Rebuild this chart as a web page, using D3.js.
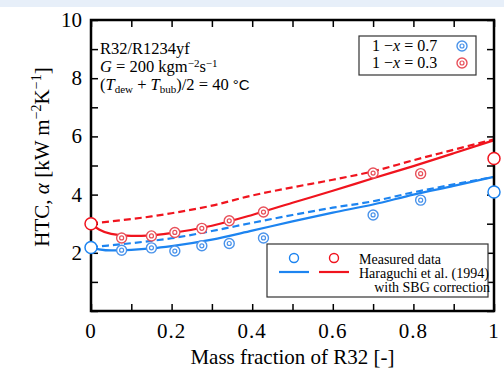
<!DOCTYPE html>
<html>
<head>
<meta charset="utf-8">
<script src="https://cdn.jsdelivr.net/npm/d3@7"></script>
<style>
  body { margin: 0; background: #fff; }
  svg { font-family: "Liberation Serif", "Times New Roman", serif; }
</style>
</head>
<body>
<svg id="chart" width="504" height="373"></svg>
<script>
// measured points (1-x = 0.7 blue, 1-x = 0.3 red)
var measX = [0.076, 0.15, 0.208, 0.275, 0.343, 0.428, 0.70, 0.818];
var measBlue = [2.09, 2.17, 2.06, 2.24, 2.32, 2.51, 3.30, 3.81];
var measRed = [2.51, 2.58, 2.70, 2.84, 3.10, 3.40, 4.74, 4.72];

// pure fluid points (x = 0 and x = 1)
var pureX = [0, 1];
var pureBlue = [2.18, 4.09];
var pureRed = [3.00, 5.24];

// model curves
var lineX = [0, 0.02, 0.05, 0.1, 0.15, 0.2, 0.3, 0.4, 0.5, 0.6, 0.7, 0.8, 0.9, 1];
var redSolid = [3.0, 2.8, 2.65, 2.58, 2.6, 2.68, 2.93, 3.3, 3.72, 4.13, 4.56, 4.98, 5.42, 5.87];
var redDashed = [3.02, 3.04, 3.08, 3.16, 3.25, 3.36, 3.62, 3.97, 4.25, 4.51, 4.8, 5.18, 5.54, 5.9];
var blueSolid = [2.18, 2.12, 2.08, 2.1, 2.15, 2.23, 2.45, 2.76, 3.08, 3.38, 3.66, 4.0, 4.3, 4.61];
var blueDashed = [2.2, 2.22, 2.26, 2.33, 2.41, 2.5, 2.75, 3.03, 3.3, 3.55, 3.77, 4.08, 4.35, 4.61];

var xTicks = [0, 0.2, 0.4, 0.6, 0.8, 1];
var yTicks = [2, 4, 6, 8, 10];

var BLUE = "#1d84f0", RED = "#f0141e";
var BLUE_PT = "#4a93ea", RED_PT = "#e8505a";

var svg = d3.select("#chart");
var margin = { top: 20, right: 10, bottom: 62, left: 91 };
var width = +svg.attr("width"), height = +svg.attr("height");

svg.append("rect").attr("x", 0).attr("y", 0).attr("width", width).attr("height", 7)
    .attr("fill", "#e7eff9");

var x = d3.scaleLinear().domain([0, 1]).range([margin.left, width - margin.right]);
var y = d3.scaleLinear().domain([0, 10]).range([height - margin.bottom, margin.top]);

var line = d3.line().curve(d3.curveMonotoneX)
    .x(function(d) { return x(d[0]); })
    .y(function(d) { return y(d[1]); });

function pairs(xs, ys) { return xs.map(function(v, i) { return [v, ys[i]]; }); }

// curves
[[redDashed, RED, "7,4"], [redSolid, RED, null], [blueDashed, BLUE, "7,4"], [blueSolid, BLUE, null]]
  .forEach(function(c) {
    svg.append("path")
        .datum(pairs(lineX, c[0]))
        .attr("d", line)
        .attr("fill", "none")
        .attr("stroke", c[1])
        .attr("stroke-width", 2.2)
        .attr("stroke-dasharray", c[2]);
  });

// measured double-circle markers
function drawMeas(ys, col) {
  var g = svg.append("g");
  var pts = pairs(measX, ys);
  g.selectAll(".o").data(pts).enter().append("circle")
      .attr("cx", function(d) { return x(d[0]); })
      .attr("cy", function(d) { return y(d[1]); })
      .attr("r", 5).attr("fill", "#fff").attr("stroke", col).attr("stroke-width", 1.4);
  g.selectAll(".i").data(pts).enter().append("circle")
      .attr("cx", function(d) { return x(d[0]); })
      .attr("cy", function(d) { return y(d[1]); })
      .attr("r", 2).attr("fill", "none").attr("stroke", col).attr("stroke-width", 1.2);
}
drawMeas(measBlue, BLUE_PT);
drawMeas(measRed, RED_PT);

// frame and axes
var plot = svg.append("g");
var xb = d3.axisBottom(x).tickValues(d3.range(0, 1.001, 0.1)).tickSize(-7).tickFormat("");
var xt = d3.axisTop(x).tickValues(d3.range(0, 1.001, 0.1)).tickSize(-7).tickFormat("");
var yl = d3.axisLeft(y).tickValues(d3.range(0, 10.01, 1)).tickSize(-7).tickFormat("");
var yr = d3.axisRight(y).tickValues(d3.range(0, 10.01, 1)).tickSize(-7).tickFormat("");
plot.append("g").attr("transform", "translate(0," + y(0) + ")").call(xb);
plot.append("g").attr("transform", "translate(0," + y(10) + ")").call(xt);
plot.append("g").attr("transform", "translate(" + x(0) + ",0)").call(yl);
plot.append("g").attr("transform", "translate(" + x(1) + ",0)").call(yr);
plot.selectAll(".domain").remove();
plot.selectAll(".tick line").attr("stroke", "#000").attr("stroke-width", 1.5);
plot.append("rect")
    .attr("x", x(0)).attr("y", y(10))
    .attr("width", x(1) - x(0)).attr("height", y(0) - y(10))
    .attr("fill", "none").attr("stroke", "#000").attr("stroke-width", 2.5);

// pure-fluid open circles
[[pureBlue, BLUE], [pureRed, RED]].forEach(function(s) {
  svg.append("g").selectAll("circle").data(pairs(pureX, s[0])).enter().append("circle")
      .attr("cx", function(d) { return x(d[0]); })
      .attr("cy", function(d) { return y(d[1]); })
      .attr("r", 6).attr("fill", "#fff").attr("stroke", s[1]).attr("stroke-width", 1.5);
});

// tick labels
svg.append("g").selectAll("text").data(xTicks).enter().append("text")
    .attr("x", function(d) { return x(d); })
    .attr("y", height - margin.bottom + 27)
    .attr("text-anchor", "middle")
    .style("font-size", "21px")
    .style("letter-spacing", "1px")
    .text(function(d) { return d; });
svg.append("g").selectAll("text").data(yTicks).enter().append("text")
    .attr("x", x(0) - 9)
    .attr("y", function(d) { return y(d) + 7; })
    .attr("text-anchor", "end")
    .style("font-size", "21px")
    .text(function(d) { return d; });

// axis titles
svg.append("text")
    .attr("x", (x(0) + x(1)) / 2)
    .attr("y", 364)
    .attr("text-anchor", "middle")
    .style("font-size", "21px")
    .text("Mass fraction of R32 [-]");

var yt = svg.append("text")
    .attr("transform", "translate(49,157) rotate(-90)")
    .attr("text-anchor", "middle")
    .style("font-size", "21px");
yt.append("tspan").text("HTC, ");
yt.append("tspan").style("font-style", "italic").text("α");
yt.append("tspan").text(" [kW m");
yt.append("tspan").attr("dy", -8).style("font-size", "14px").text("−2");
yt.append("tspan").attr("dy", 8).text("K");
yt.append("tspan").attr("dy", -8).style("font-size", "14px").text("−1");
yt.append("tspan").attr("dy", 8).text("]");

// condition annotation
var ann = svg.append("g").style("font-size", "16.5px");
ann.append("text").attr("x", 100).attr("y", 54).text("R32/R1234yf");
var a2 = ann.append("text").attr("x", 100).attr("y", 72);
a2.append("tspan").style("font-style", "italic").text("G");
a2.append("tspan").text(" = 200 kgm");
a2.append("tspan").attr("dy", -5).style("font-size", "11px").text("−2");
a2.append("tspan").attr("dy", 5).text("s");
a2.append("tspan").attr("dy", -5).style("font-size", "11px").text("−1");
var a3 = ann.append("text").attr("x", 100).attr("y", 90);
a3.append("tspan").text("(");
a3.append("tspan").style("font-style", "italic").text("T");
a3.append("tspan").attr("dy", 3).style("font-size", "11px").text("dew");
a3.append("tspan").attr("dy", -3).text(" + ");
a3.append("tspan").style("font-style", "italic").text("T");
a3.append("tspan").attr("dy", 3).style("font-size", "11px").text("bub");
a3.append("tspan").attr("dy", -3).text(")/2 = 40 ");
a3.append("tspan").style("font-family", "Liberation Sans, Arial, sans-serif").style("font-size", "15px").text("°C");

// legend: quality
var lg = svg.append("g");
lg.append("rect").attr("x", 359).attr("y", 36).attr("width", 117).attr("height", 39)
    .attr("fill", "#fff").attr("stroke", "#333").attr("stroke-width", 1.2);
[["0.7", BLUE_PT, 51], ["0.3", RED_PT, 68]].forEach(function(r) {
  var t = lg.append("text").attr("x", 372).attr("y", r[2]).style("font-size", "16px");
  t.append("tspan").text("1 −");
  t.append("tspan").style("font-style", "italic").text("x");
  t.append("tspan").text(" = " + r[0]);
  lg.append("circle").attr("cx", 462).attr("cy", r[2] - 5).attr("r", 5)
      .attr("fill", "#fff").attr("stroke", r[1]).attr("stroke-width", 1.4);
  lg.append("circle").attr("cx", 462).attr("cy", r[2] - 5).attr("r", 2)
      .attr("fill", "none").attr("stroke", r[1]).attr("stroke-width", 1.2);
});

// legend: marks
var lb = svg.append("g");
lb.append("rect").attr("x", 267).attr("y", 244).attr("width", 221).attr("height", 53)
    .attr("fill", "#fff").attr("stroke", "#333").attr("stroke-width", 1.2);
[[BLUE, 279], [RED, 319]].forEach(function(c) {
  lb.append("circle").attr("cx", c[1] + 15).attr("cy", 258).attr("r", 4.5)
      .attr("fill", "#fff").attr("stroke", c[0]).attr("stroke-width", 1.4);
  lb.append("line").attr("x1", c[1]).attr("x2", c[1] + 30).attr("y1", 272).attr("y2", 272)
      .attr("stroke", c[0]).attr("stroke-width", 2.2);
});
lb.append("text").attr("x", 359).attr("y", 264).style("font-size", "14px").text("Measured data");
lb.append("text").attr("x", 359).attr("y", 278).style("font-size", "14px").text("Haraguchi et al. (1994)");
lb.append("text").attr("x", 490).attr("y", 292).attr("text-anchor", "end").style("font-size", "14px").text("with SBG correction");
</script>
</body>
</html>
